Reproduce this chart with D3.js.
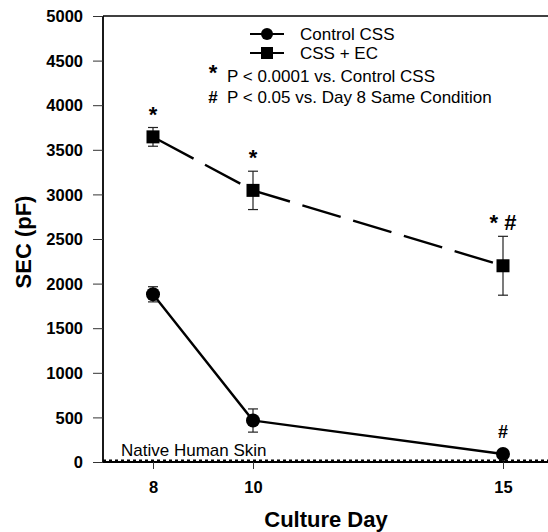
<!DOCTYPE html>
<html><head><meta charset="utf-8">
<script src="https://cdn.jsdelivr.net/npm/d3@7"></script>
<style>body{margin:0;background:#fff}svg{display:block}text{font-family:"Liberation Sans",Arial,sans-serif;fill:#000}</style>
</head><body>
<svg id="c" width="548" height="532"></svg>
<script>
const days = [8, 10, 15];
const controlMean = [1880, 465, 90];
const controlErr = [85, 130, 40];
const ecMean = [3645, 3045, 2200];
const ecErr = [105, 215, 330];
const ecSig = ["*", "*", "* #"];
const controlSig = ["", "", "#"];
const nativeSkin = 20;
const yTicks = [0, 500, 1000, 1500, 2000, 2500, 3000, 3500, 4000, 4500, 5000];
const xTicks = [8, 10, 15];
const seriesNames = ["Control CSS", "CSS + EC"];
const notes = [["*", "P < 0.0001 vs. Control CSS"], ["#", "P < 0.05 vs. Day 8 Same Condition"]];

const svg = d3.select("#c");
const x = d3.scaleLinear().domain([7, 15.92]).range([103, 549]);
const y = d3.scaleLinear().domain([0, 5000]).range([462, 16]);

// axes
const yAxis = d3.axisLeft(y).tickValues(yTicks).tickSize(10).tickPadding(10).tickFormat(d3.format("d"));
const gy = svg.append("g").attr("transform", `translate(${x(7)},0)`).call(yAxis);
gy.select(".domain").attr("stroke-width", 1.8).attr("d", `M0,${y(0)}V${y(5000)}`);
gy.selectAll(".tick line").attr("stroke-width", 1).attr("stroke", "#333");
gy.selectAll(".tick text").style("font-size", "16.5px").style("font-weight", "600").attr("dy", "0.35em");

const xAxis = d3.axisBottom(x).tickValues(xTicks).tickSize(7).tickPadding(12);
const gx = svg.append("g").attr("transform", `translate(0,${y(0)})`).call(xAxis);
gx.select(".domain").attr("stroke-width", 1.8).attr("d", `M${x(7)},0H${x(15.92)}`);
gx.selectAll(".tick line").attr("stroke-width", 1).attr("stroke", "#333");
gx.selectAll(".tick text").style("font-size", "16.5px").style("font-weight", "600");

// top frame
svg.append("line").attr("x1", x(7)).attr("x2", x(15.92)).attr("y1", y(5000)).attr("y2", y(5000))
  .attr("stroke", "#000").attr("stroke-width", 1.6);

// native skin dotted line
svg.append("line").attr("x1", x(7)).attr("x2", x(15.92)).attr("y1", y(nativeSkin)).attr("y2", y(nativeSkin))
  .attr("stroke", "#000").attr("stroke-width", 1.5).attr("stroke-dasharray", "3,3");
svg.append("text").attr("x", 121).attr("y", y(nativeSkin) - 4).style("font-size", "17px").text("Native Human Skin");

// axis labels
svg.append("text").attr("x", 326).attr("y", 527).attr("text-anchor", "middle")
  .style("font-size", "22px").style("font-weight", "bold").text("Culture Day");
svg.append("text").attr("transform", "translate(31,242) rotate(-90)").attr("text-anchor", "middle")
  .style("font-size", "22px").style("font-weight", "bold").text("SEC (pF)");

const line = d3.line().x(d => x(d[0])).y(d => y(d[1]));
const ecData = days.map((d, i) => [d, ecMean[i]]);
const ctData = days.map((d, i) => [d, controlMean[i]]);

svg.append("path").attr("d", line(ecData)).attr("fill", "none").attr("stroke", "#000")
  .attr("stroke-width", 2.4).attr("stroke-dasharray", "40,13").attr("stroke-dashoffset", -6);
svg.append("path").attr("d", line(ctData)).attr("fill", "none").attr("stroke", "#000").attr("stroke-width", 2.4);

function errBars(means, errs) {
  days.forEach((d, i) => {
    const g = svg.append("g").attr("stroke", "#222").attr("stroke-width", 1.2);
    g.append("line").attr("x1", x(d)).attr("x2", x(d)).attr("y1", y(means[i] - errs[i])).attr("y2", y(means[i] + errs[i]));
    [means[i] - errs[i], means[i] + errs[i]].forEach(v =>
      g.append("line").attr("x1", x(d) - 5).attr("x2", x(d) + 5).attr("y1", y(v)).attr("y2", y(v)));
  });
}
errBars(ecMean, ecErr);
errBars(controlMean, controlErr);

svg.selectAll(".sq").data(ecData).join("rect").attr("x", d => x(d[0]) - 6.5).attr("y", d => y(d[1]) - 6.5)
  .attr("width", 13).attr("height", 13).attr("fill", "#000");
svg.selectAll(".ci").data(ctData).join("circle").attr("cx", d => x(d[0])).attr("cy", d => y(d[1]))
  .attr("r", 7).attr("fill", "#000");

// significance marks
days.forEach((d, i) => {
  if (ecSig[i]) svg.append("text").attr("x", x(d)).attr("y", y(ecMean[i] + ecErr[i]) - 6)
    .attr("text-anchor", "middle").style("font-size", "22px").style("font-weight", "bold").text(ecSig[i]);
  if (controlSig[i]) svg.append("text").attr("x", x(d)).attr("y", y(controlMean[i] + controlErr[i]) - 12)
    .attr("text-anchor", "middle").style("font-size", "18px").style("font-weight", "bold").text(controlSig[i]);
});

// legend
const lg = svg.append("g");
[0, 1].forEach(i => {
  const yy = 34 + i * 19;
  lg.append("line").attr("x1", 250).attr("x2", 284).attr("y1", yy).attr("y2", yy).attr("stroke", "#000").attr("stroke-width", 2);
  if (i === 0) lg.append("circle").attr("cx", 267).attr("cy", yy).attr("r", 6).attr("fill", "#000");
  else lg.append("rect").attr("x", 261).attr("y", yy - 6).attr("width", 12).attr("height", 12).attr("fill", "#000");
  lg.append("text").attr("x", 300).attr("y", yy + 6).style("font-size", "17px").text(seriesNames[i]);
});
notes.forEach((n, i) => {
  const yy = 82 + i * 21;
  lg.append("text").attr("x", 213).attr("y", i === 0 ? yy - 2 : yy).attr("text-anchor", "middle")
    .style("font-size", i === 0 ? "22px" : "17px").style("font-weight", "bold").text(n[0]);
  lg.append("text").attr("x", 227).attr("y", yy).style("font-size", "17px").text(n[1]);
});
</script>
</body></html>
